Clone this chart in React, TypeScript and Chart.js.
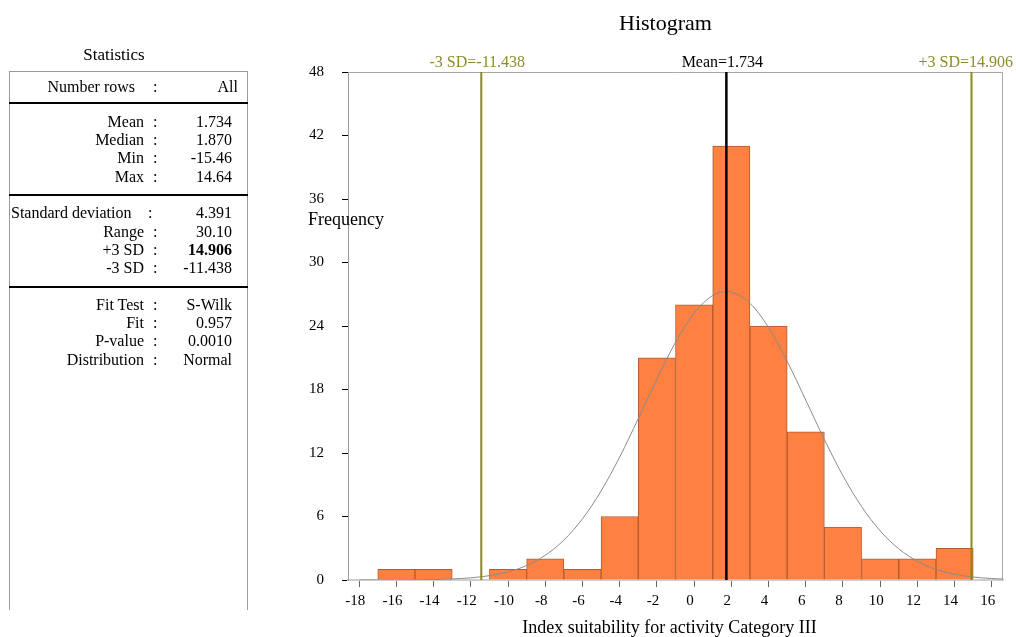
import React, { useEffect, useRef } from "react";
import { Chart, registerables } from "chart.js";

Chart.register(...registerables);

const SERIF = "'Liberation Serif', 'Times New Roman', Times, serif";

// ---- Data ----
const binCenters = [-16, -14, -12, -10, -8, -6, -4, -2, 0, 2, 4, 6, 8, 10, 12, 14];
const binCounts = [1, 1, 0, 1, 2, 1, 6, 21, 26, 41, 24, 14, 5, 2, 2, 3];

const curveX = [-18, -17, -16, -15, -14, -13, -12, -11, -10, -9, -8, -7, -6, -5, -4, -3, -2, -1, 0, 1, 1.734, 2, 3, 4, 5, 6, 7, 8, 9, 10, 11, 12, 13, 14, 15, 16, 16.6];
const curveY = [0.001, 0.003, 0.008, 0.019, 0.044, 0.098, 0.205, 0.41, 0.77, 1.37, 2.34, 3.77, 5.78, 8.41, 11.62, 15.25, 18.99, 22.46, 25.22, 26.88, 27.26, 27.21, 26.15, 23.86, 20.67, 17.0, 13.28, 9.85, 6.94, 4.64, 2.94, 1.77, 1.01, 0.55, 0.28, 0.14, 0.09];

const xTicks = [-18, -16, -14, -12, -10, -8, -6, -4, -2, 0, 2, 4, 6, 8, 10, 12, 14, 16];
const yTicks = [0, 6, 12, 18, 24, 30, 36, 42, 48];

const refValues = [-11.438, 1.734, 14.906];
const refLabels = ["-3 SD=-11.438", "Mean=1.734", "+3 SD=14.906"];

const chartTitle = "Histogram";
const xAxisTitle = "Index suitability for activity Category III";
const yAxisTitle = "Frequency";

const statsTitle = "Statistics";
const statsSection1 = [["Number rows", "All"]];
const statsSection2 = [["Mean", "1.734"], ["Median", "1.870"], ["Min", "-15.46"], ["Max", "14.64"]];
const statsSection3 = [["Standard deviation", "4.391"], ["Range", "30.10"], ["+3 SD", "14.906"], ["-3 SD", "-11.438"]];
const statsSection4 = [["Fit Test", "S-Wilk"], ["Fit", "0.957"], ["P-value", "0.0010"], ["Distribution", "Normal"]];

// ---- Styles ----
const OLIVE = "#8b8b10";
const refColors = [OLIVE, "#000000", OLIVE];
const refWidths = [2, 2.5, 2];

const decorPlugin = {
  id: "decor",
  beforeDatasetsDraw(chart: any) {
    const { ctx, chartArea: a } = chart;
    ctx.save();
    ctx.strokeStyle = "#a8a8a8";
    ctx.lineWidth = 1;
    ctx.beginPath();
    ctx.moveTo(a.left, a.top + 0.5);
    ctx.lineTo(a.right - 0.5, a.top + 0.5);
    ctx.lineTo(a.right - 0.5, a.bottom);
    ctx.stroke();
    ctx.restore();
  },
  afterDraw(chart: any) {
    const { ctx, chartArea: a, scales } = chart;
    const xs = scales.x;
    const cx = (a.left + a.right) / 2;
    ctx.save();
    ctx.fillStyle = "#000";
    ctx.textBaseline = "alphabetic";
    ctx.textAlign = "center";
    ctx.font = `22px ${SERIF}`;
    ctx.fillText(chartTitle, cx - 10, 30);
    ctx.font = `18px ${SERIF}`;
    ctx.fillText(xAxisTitle, cx - 6, 633);
    ctx.textAlign = "left";
    ctx.fillText(yAxisTitle, a.left - 40, 225);
    ctx.font = `16px ${SERIF}`;
    ctx.textAlign = "center";
    refValues.forEach((v, i) => {
      const w = ctx.measureText(refLabels[i]).width;
      let px = xs.getPixelForValue(v) - 4;
      px = Math.min(px, chart.width - 3 - w / 2);
      ctx.fillStyle = i === 1 ? "#000" : "#8c8c2a";
      ctx.fillText(refLabels[i], px, a.top - 5);
    });
    ctx.restore();
  },
};

function HistogramChart() {
  const ref = useRef<HTMLCanvasElement | null>(null);
  useEffect(() => {
    if (!ref.current) return;
    Chart.defaults.font.family = SERIF;
    const refDatasets = refValues.map((v, i) => ({
      type: "line" as const,
      data: [{ x: v, y: yTicks[0] }, { x: v, y: yTicks[yTicks.length - 1] }],
      borderColor: refColors[i],
      borderWidth: refWidths[i],
      pointRadius: 0,
      order: i === 1 ? 0 : 1,
    }));
    const chart = new Chart(ref.current, {
      type: "bar",
      data: {
        datasets: [
          {
            type: "bar" as const,
            data: binCenters.map((c, i) => ({ x: c, y: binCounts[i] })),
            backgroundColor: "#ff8142",
            borderColor: "#b55a2e",
            borderWidth: 1,
            barPercentage: 1,
            categoryPercentage: 1,
            order: 3,
          } as any,
          {
            type: "line" as const,
            data: curveX.map((x, i) => ({ x, y: curveY[i] })),
            borderColor: "#8a8a8a",
            borderWidth: 1,
            pointRadius: 0,
            cubicInterpolationMode: "monotone",
            order: 2,
          } as any,
          ...refDatasets,
        ],
      },
      options: {
        animation: false,
        responsive: false,
        devicePixelRatio: 1,
        layout: { padding: { left: 280, right: 13, top: 72, bottom: 0 } },
        plugins: { legend: { display: false }, tooltip: { enabled: false }, title: { display: false } },
        scales: {
          x: {
            type: "linear",
            min: -18.6,
            max: 16.6,
            offset: false,
            grid: { offset: false, drawOnChartArea: false, tickLength: 7, tickColor: "#666" },
            border: { display: true, color: "#cfcfcf", width: 2 },
            ticks: { color: "#000", font: { size: 15, family: SERIF }, labelOffset: -4, padding: 5, maxRotation: 0, autoSkip: false },
            afterBuildTicks: (s: any) => { s.ticks = xTicks.map((v) => ({ value: v })); },
            afterFit: (s: any) => { s.height = 57; },
          },
          y: {
            type: "linear",
            min: 0,
            max: 48,
            grid: { drawOnChartArea: false, tickLength: 6, tickColor: "#000" },
            border: { display: true, color: "#9a9a9a", width: 1 },
            ticks: { color: "#000", font: { size: 15, family: SERIF }, padding: 18, autoSkip: false },
            afterBuildTicks: (s: any) => { s.ticks = yTicks.map((v) => ({ value: v })); },
            afterFit: (s: any) => { s.width = 68; },
          },
        },
      } as any,
      plugins: [decorPlugin],
    });
    return () => chart.destroy();
  }, []);
  return <canvas ref={ref} width={1016} height={637} style={{ position: "absolute", left: 0, top: 0 }} />;
}

function StatsPanel() {
  const sections = [statsSection1, statsSection2, statsSection3, statsSection4];
  const rowCenters = [[86.7], [121.7, 140, 158.3, 176.7], [213.3, 231.7, 250, 268.3], [304.7, 323, 341.3, 359.7]];
  const rows: any[] = [];
  sections.forEach((sec, si) => {
    sec.forEach((r, ri) => {
      const top = rowCenters[si][ri] - 9;
      const isFirst = si === 0;
      const isSD = r[0] === "Standard deviation";
      rows.push(
        <div key={`${si}-${ri}`} style={{ position: "absolute", left: 0, top, width: 260, height: 18, lineHeight: "18px", fontSize: 16 }}>
          {isSD ? (
            <span style={{ position: "absolute", left: 11, whiteSpace: "nowrap" }}>{r[0]}</span>
          ) : (
            <span style={{ position: "absolute", left: 0, width: isFirst ? 135 : 144, textAlign: "right", whiteSpace: "nowrap" }}>{r[0]}</span>
          )}
          <span style={{ position: "absolute", left: isSD ? 148 : 153 }}>:</span>
          <span style={{ position: "absolute", left: 0, width: isFirst ? 238 : 232, textAlign: "right", whiteSpace: "nowrap", fontWeight: r[0] === "+3 SD" ? "bold" : "normal" }}>{r[1]}</span>
        </div>
      );
    });
  });
  const seps = [102, 194, 286];
  return (
    <div style={{ position: "absolute", left: 0, top: 0, width: 260, height: 637, fontFamily: SERIF, color: "#000" }}>
      <div style={{ position: "absolute", left: 54, width: 120, top: 45, textAlign: "center", fontSize: 17, lineHeight: "20px" }}>{statsTitle}</div>
      <div style={{ position: "absolute", left: 9, top: 71, width: 237, height: 538, borderLeft: "1px solid #9a9a9a", borderRight: "1px solid #9a9a9a", borderTop: "1px solid #9a9a9a" }} />
      {seps.map((y) => (
        <div key={y} style={{ position: "absolute", left: 9, width: 239, top: y, height: 2, background: "#000" }} />
      ))}
      {rows}
    </div>
  );
}

export default function App() {
  return (
    <div style={{ position: "fixed", left: 0, top: 0, width: 1016, height: 637, background: "#fff", overflow: "hidden" }}>
      <HistogramChart />
      <StatsPanel />
    </div>
  );
}
